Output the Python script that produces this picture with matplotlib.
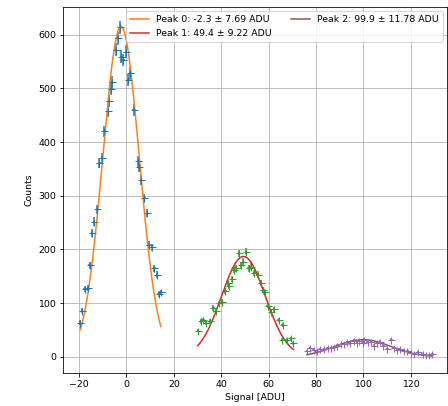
import numpy as np
import matplotlib
matplotlib.use("Agg")
import matplotlib.pyplot as plt

# Peak 0 (blue points)
x0 = [-19.5, -18.7, -17.7, -16.3, -15.6, -14.5, -13.8, -12.5, -11.4, -10.2,
      -9.6, -7.9, -7.5, -6.5, -6.0, -4.6, -3.7, -2.7, -2.1, -1.3,
      -0.1, 0.6, 1.6, 3.0, 4.8, 5.5, 6.2, 7.6, 8.6, 9.7,
      10.7, 11.8, 12.8, 13.6, 14.5]
y0 = [64, 86, 126, 128, 171, 231, 252, 275, 361, 370,
      420, 457, 477, 498, 511, 572, 593, 614, 559, 553,
      568, 516, 528, 460, 364, 354, 330, 295, 268, 209,
      204, 165, 153, 117, 120]

# Peak 1 (green points)
x1 = [30.1, 31.5, 32.5, 33.6, 35.3, 36.7, 37.8, 39.2, 40.4, 41.8,
      42.7, 43.4, 44.6, 45.5, 46.3, 47.4, 48.4, 49.3, 50.5, 51.6,
      52.6, 54.0, 55.4, 56.8, 57.8, 58.6, 59.6, 61.0, 62.4, 64.2,
      65.9, 65.7, 67.6, 69.5, 70.4]
y1 = [49, 66, 69, 64, 66, 91, 86, 100, 103, 122,
      137, 132, 145, 162, 165, 193, 171, 177, 196, 165,
      168, 156, 153, 138, 125, 120, 95, 84, 89, 69,
      60, 32, 32, 35, 25]

# Peak 2 (purple points)
x2 = [76.2, 77.6, 79.0, 80.4, 81.8, 83.5, 84.9, 86.3, 87.7, 89.1,
      90.5, 91.9, 93.3, 94.5, 95.9, 97.3, 98.3, 99.7, 100.4, 101.8,
      103.2, 104.6, 105.7, 107.1, 108.5, 110.2, 111.9, 113.0, 114.2, 115.6,
      117.2, 118.6, 120.1, 121.5, 123.2, 125.0, 126.4, 127.8, 129.2]
y2 = [11, 16, 13, 11, 15, 15, 17, 17, 19, 21,
      24, 24, 27, 25, 30, 26, 30, 26, 32, 28,
      28, 21, 26, 28, 21, 15, 32, 17, 13, 15,
      11, 11, 7, 5, 9, 5, 4, 4, 5]

# fitted gaussians: amplitude, mean, sigma
amps = [615, 187, 32]
means = [-2.3, 49.4, 99.9]
sigmas = [7.69, 9.22, 11.78]

plt.rcParams["font.size"] = 9.4

fig = plt.figure(figsize=(448 / 72, 406 / 72), dpi=72)
ax = fig.add_axes([0.1406, 0.0813, 0.858, 0.902])

datasets = [(x0, y0), (x1, y1), (x2, y2)]
for i, (xs, ys) in enumerate(datasets):
    xs = np.array(xs)
    ys = np.array(ys)
    ax.errorbar(xs, ys, xerr=0.5, yerr=0.5 * np.sqrt(ys), fmt="+",
                color=f"C{2 * i}", markersize=7, elinewidth=1.5)
    xx = np.linspace(xs.min(), xs.max(), 200)
    yy = amps[i] * np.exp(-(xx - means[i]) ** 2 / (2 * sigmas[i] ** 2))
    ax.plot(xx, yy, color=f"C{2 * i + 1}", linewidth=1.5,
            label=f"Peak {i}: {means[i]} \u00b1 {sigmas[i]} ADU")

ax.set_xlim(-26.8, 135.5)
ax.set_ylim(-30, 652)
ax.set_xlabel("Signal [ADU]")
ax.set_ylabel("Counts")
ax.grid(True)
ax.legend(ncol=2, loc="upper right")

fig.savefig("out.png", dpi=72)
